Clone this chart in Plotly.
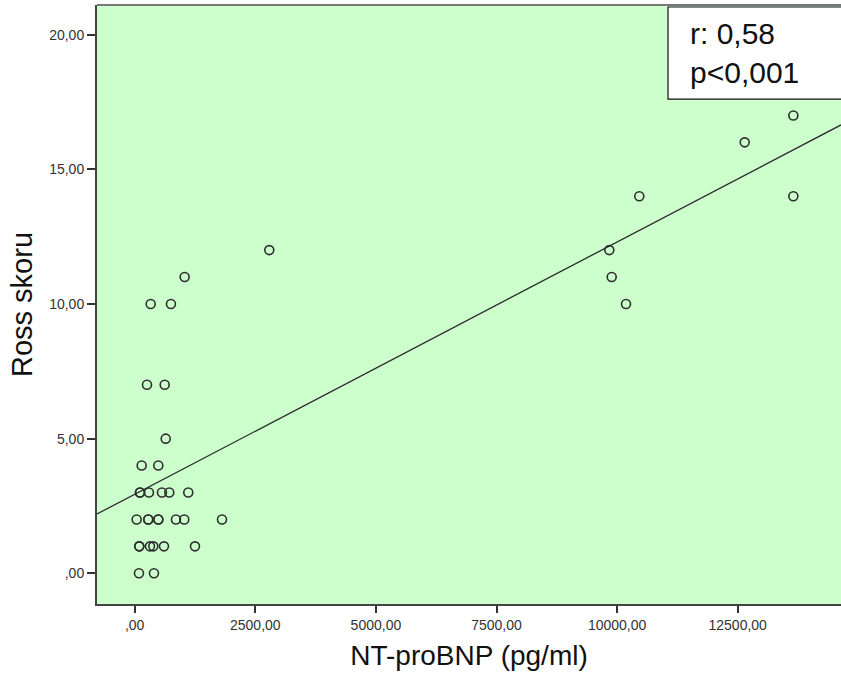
import numpy as np
import plotly.graph_objects as go

# NT-proBNP (pg/ml) and Ross score per patient
nt_probnp = [
    89, 400,
    95, 95, 317, 386, 607, 1250,
    41, 282, 282, 490, 490, 856, 1028, 1810,
    110, 110, 296, 566, 717, 1111,
    145, 490,
    643,
    255, 622,
    332, 752, 10185,
    1036, 9888,
    2790, 9838,
    10460, 13653,
    12645,
    13653,
]
ross_score = [
    0, 0,
    1, 1, 1, 1, 1, 1,
    2, 2, 2, 2, 2, 2, 2, 2,
    3, 3, 3, 3, 3, 3,
    4, 4,
    5,
    7, 7,
    10, 10, 10,
    11, 11,
    12, 12,
    14, 14,
    16,
    17,
]

x_ticks = [0, 2500, 5000, 7500, 10000, 12500]
x_tick_text = [",00", "2500,00", "5000,00", "7500,00", "10000,00", "12500,00"]
y_ticks = [0, 5, 10, 15, 20]
y_tick_text = [",00", "5,00", "10,00", "15,00", "20,00"]

stat_lines = ["r: 0,58", "p<0,001"]

x_range = [-781, 14641]
y_range = [-1.14, 21.1]

# least-squares fit line across the full x range
slope, intercept = np.polyfit(np.array(nt_probnp, float), np.array(ross_score, float), 1)
fit_x = np.array(x_range, float)
fit_y = intercept + slope * fit_x

fig = go.Figure()
fig.add_trace(go.Scatter(
    x=fit_x, y=fit_y, mode="lines",
    line=dict(color="#2b2b2b", width=1.3),
    hoverinfo="skip", showlegend=False,
))
fig.add_trace(go.Scatter(
    x=nt_probnp, y=ross_score, mode="markers",
    marker=dict(symbol="circle-open", size=9, color="#2e2e2e", line=dict(width=1.6)),
    showlegend=False,
))

font_family = "Liberation Sans, Arial, sans-serif"

fig.update_layout(
    width=841, height=680,
    margin=dict(l=97, r=0, t=5, b=76),
    paper_bgcolor="white",
    plot_bgcolor="#CCFFCC",
    font=dict(family=font_family, color="#222222"),
    xaxis=dict(
        range=x_range, tickvals=x_ticks, ticktext=x_tick_text,
        showgrid=False, zeroline=False,
        showline=True, linecolor="#444444", linewidth=2,
        ticks="outside", ticklen=7, tickwidth=1.5, tickcolor="#333333",
        tickfont=dict(size=14, color="#333333"),
        title=dict(text="NT-proBNP (pg/ml)", font=dict(size=28, color="#111111"), standoff=14),
    ),
    yaxis=dict(
        range=y_range, tickvals=y_ticks, ticktext=y_tick_text,
        showgrid=False, zeroline=False,
        showline=True, linecolor="#444444", linewidth=2,
        ticks="outside", ticklen=8, tickwidth=1.5, tickcolor="#333333",
        tickfont=dict(size=14, color="#333333"),
        title=dict(text="Ross skoru", font=dict(size=29, color="#111111"), standoff=8),
    ),
    shapes=[
        dict(type="line", xref="paper", yref="paper", x0=0, x1=1, y0=1, y1=1,
             line=dict(color="#777777", width=2)),
        dict(type="rect", xref="paper", yref="paper", x0=0.7675, x1=1.02, y0=0.843, y1=0.9967,
             fillcolor="white", line=dict(color="#111111", width=1.2)),
    ],
    annotations=[
        dict(text=stat_lines[0], xref="paper", yref="paper", x=0.7945, y=0.9516,
             xanchor="left", yanchor="middle", showarrow=False,
             font=dict(size=30, color="#111111", family=font_family)),
        dict(text=stat_lines[1], xref="paper", yref="paper", x=0.7945, y=0.8865,
             xanchor="left", yanchor="middle", showarrow=False,
             font=dict(size=30, color="#111111", family=font_family)),
    ],
)

fig.write_html("out.html")
